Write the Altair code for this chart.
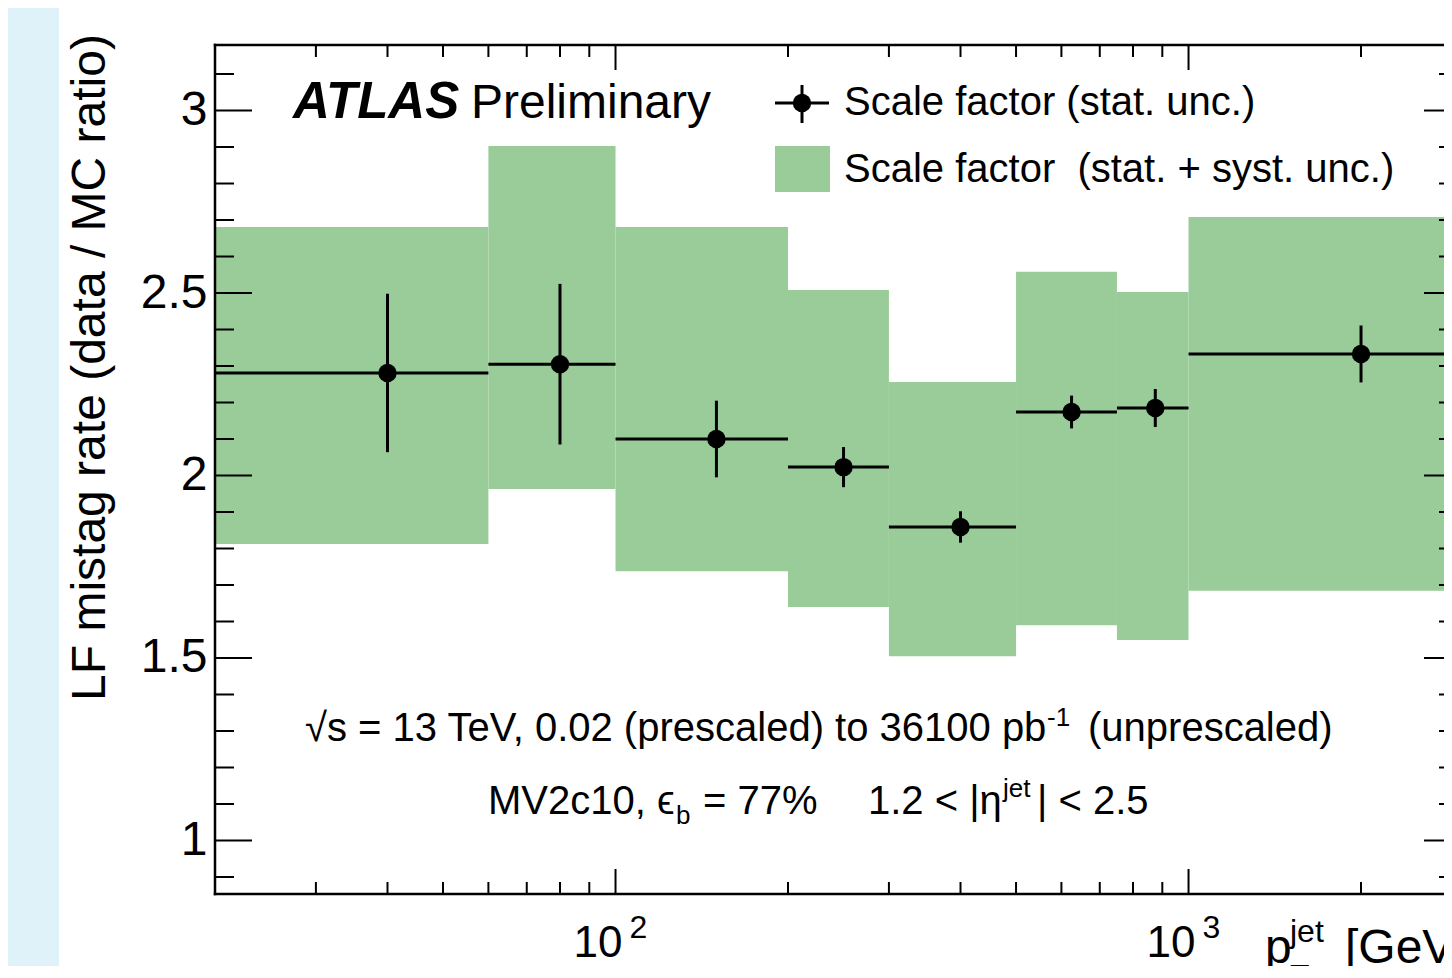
import altair as alt
import pandas as pd

FONT = "Liberation Sans"
W, H = 1229, 849

# ---- data ----
bin_lo = [20, 60, 100, 200, 300, 500, 750, 1000]
bin_hi = [60, 100, 200, 300, 500, 750, 1000, 3000]
pt_center = [40, 80, 150, 250, 400, 625, 875, 2000]
sf = [2.281, 2.305, 2.100, 2.023, 1.859, 2.174, 2.185, 2.333]
stat_unc = [0.217, 0.220, 0.105, 0.055, 0.043, 0.045, 0.052, 0.078]
band_lo = [1.812, 1.963, 1.738, 1.640, 1.505, 1.590, 1.549, 1.684]
band_hi = [2.681, 2.903, 2.681, 2.508, 2.256, 2.558, 2.503, 2.708]

# ---- tick positions / labels ----
y_major = [1, 1.5, 2, 2.5, 3]
y_minor = [0.9, 1.1, 1.2, 1.3, 1.4, 1.6, 1.7, 1.8, 1.9, 2.1, 2.2, 2.3, 2.4,
           2.6, 2.7, 2.8, 2.9, 3.1]
x_major = [100, 1000]
x_major_base = ["10", "10"]
x_major_exp = ["2", "3"]
x_minor = [30, 40, 50, 60, 70, 80, 90, 200, 300, 400, 500, 600, 700, 800, 900, 2000]

GREEN = "#99cc99"

df = pd.DataFrame(dict(lo=bin_lo, hi=bin_hi, c=pt_center, sf=sf,
                       blo=band_lo, bhi=band_hi))
df["elo"] = df["sf"] - pd.Series(stat_unc)
df["ehi"] = df["sf"] + pd.Series(stat_unc)

ymaj_df = pd.DataFrame({"v": y_major})
ymin_df = pd.DataFrame({"v": y_minor})
xmaj_df = pd.DataFrame({"v": x_major, "base": x_major_base, "exp": x_major_exp})
xmin_df = pd.DataFrame({"v": x_minor})
ONE = pd.DataFrame({"d": [0]})

xs = alt.Scale(type="log", domain=[20, 2791.5], nice=False)
ys = alt.Scale(domain=[0.8534, 3.1795], nice=False, zero=False)
yax = alt.Axis(values=y_major, format="~g", labelFont=FONT, labelFontSize=48,
               labelColor="black", labelPadding=8, ticks=False, tickSize=0,
               domain=False, grid=False, title=None, labelFlush=False)


def X(f):
    return alt.X(f, type="quantitative", scale=xs, axis=None)


def Y(f):
    return alt.Y(f, type="quantitative", scale=ys, axis=yax)


def txt(s, x, y, size=40, **kw):
    params = dict(text=s, align="left", baseline="alphabetic", font=FONT,
                  fontSize=size, color="black")
    params.update(kw)
    return alt.Chart(ONE).mark_text(**params).encode(x=alt.value(x), y=alt.value(y))


layers = []

# light blue page strip on the left
layers.append(alt.Chart(ONE).mark_rect(color="#e0f2f9").encode(
    x=alt.value(-207), x2=alt.value(-156), y=alt.value(-37), y2=alt.value(H + 72)))

# stat + syst band
layers.append(alt.Chart(df).mark_rect(color=GREEN, clip=True).encode(
    x=X("lo"), x2="hi", y=Y("bhi"), y2="blo"))

# horizontal bin bars
layers.append(alt.Chart(df).mark_rule(color="black", strokeWidth=3, clip=True).encode(
    x=X("lo"), x2="hi", y=Y("sf")))
# vertical stat errors
layers.append(alt.Chart(df).mark_rule(color="black", strokeWidth=3).encode(
    x=X("c"), y=Y("elo"), y2="ehi"))
# points
layers.append(alt.Chart(df).mark_point(filled=True, shape="circle", size=340,
                                       color="black", opacity=1).encode(
    x=X("c"), y=Y("sf")))

# ticks (inward)
layers.append(alt.Chart(ymaj_df).mark_rule(color="black", strokeWidth=2).encode(
    y=Y("v"), x=alt.value(0), x2=alt.value(37)))
layers.append(alt.Chart(ymin_df).mark_rule(color="black", strokeWidth=2).encode(
    y=Y("v"), x=alt.value(0), x2=alt.value(19)))
layers.append(alt.Chart(ymaj_df).mark_rule(color="black", strokeWidth=2).encode(
    y=Y("v"), x=alt.value(W - 20), x2=alt.value(W)))
layers.append(alt.Chart(ymin_df).mark_rule(color="black", strokeWidth=2).encode(
    y=Y("v"), x=alt.value(W - 5), x2=alt.value(W)))
layers.append(alt.Chart(xmaj_df).mark_rule(color="black", strokeWidth=2).encode(
    x=X("v"), y=alt.value(H), y2=alt.value(H - 25)))
layers.append(alt.Chart(xmaj_df).mark_rule(color="black", strokeWidth=2).encode(
    x=X("v"), y=alt.value(0), y2=alt.value(25)))
layers.append(alt.Chart(xmin_df).mark_rule(color="black", strokeWidth=2).encode(
    x=X("v"), y=alt.value(H), y2=alt.value(H - 12)))
layers.append(alt.Chart(xmin_df).mark_rule(color="black", strokeWidth=2).encode(
    x=X("v"), y=alt.value(0), y2=alt.value(12)))

# frame (left, top, bottom)
frame = dict(color="black", strokeWidth=2.5, strokeCap="square")
layers.append(alt.Chart(ONE).mark_rule(**frame).encode(
    x=alt.value(0), y=alt.value(0), y2=alt.value(H)))
layers.append(alt.Chart(ONE).mark_rule(**frame).encode(
    x=alt.value(0), x2=alt.value(W), y=alt.value(0)))
layers.append(alt.Chart(ONE).mark_rule(**frame).encode(
    x=alt.value(0), x2=alt.value(W), y=alt.value(H)))

# x tick labels 10^2, 10^3
layers.append(alt.Chart(xmaj_df).mark_text(align="right", baseline="alphabetic",
                                           font=FONT, fontSize=44, dx=7,
                                           color="black").encode(
    x=X("v"), y=alt.value(912), text="base:N"))
layers.append(alt.Chart(xmaj_df).mark_text(align="left", baseline="alphabetic",
                                           font=FONT, fontSize=32, dx=14,
                                           color="black").encode(
    x=X("v"), y=alt.value(893), text="exp:N"))

# legend symbols
layers.append(alt.Chart(ONE).mark_rect(color=GREEN).encode(
    x=alt.value(560), x2=alt.value(615), y=alt.value(101), y2=alt.value(147)))
layers.append(alt.Chart(ONE).mark_rule(color="black", strokeWidth=3).encode(
    x=alt.value(560), x2=alt.value(614), y=alt.value(58)))
layers.append(alt.Chart(ONE).mark_rule(color="black", strokeWidth=3).encode(
    x=alt.value(587), y=alt.value(40), y2=alt.value(78)))
layers.append(alt.Chart(ONE).mark_point(filled=True, shape="circle", size=340,
                                        color="black", opacity=1).encode(
    x=alt.value(587), y=alt.value(58)))

# texts
layers += [
    txt("ATLAS", 78, 73, 51, fontWeight="bold", fontStyle="italic"),
    txt("Preliminary", 256, 73, 48),
    txt("Scale factor (stat. unc.)", 629, 70, 40),
    txt("Scale factor\u00a0 (stat. + syst. unc.)", 629, 137, 40),
    # sqrt(s) line
    txt("\u221as = 13 TeV, 0.02 (prescaled) to 36100 pb", 90, 696, 40),
    txt("-1", 832, 681, 26),
    txt("(unprescaled)", 873, 696, 40),
    # MV2c10 line
    txt("MV2c10, \u03f5", 273, 769, 40),
    txt("b", 461, 779, 26),
    txt("= 77%", 488, 769, 40),
    txt("1.2 < |\u03b7", 653, 769, 40),
    txt("jet", 788, 752, 26),
    txt("| < 2.5", 822, 769, 40),
    # x title
    txt("p", 1050, 918, 48),
    txt("jet", 1075, 897, 32),
    txt("T", 1075, 942, 32),
    txt("[GeV]", 1130, 918, 48),
    # y title
    txt("LF mistag rate (data / MC ratio)", -110, 322.5, 48, angle=270, align="center"),
]

chart = alt.layer(*layers).properties(
    width=W, height=H,
    autosize=alt.AutoSizeParams(type="none"),
    padding={"left": 207, "top": 37, "right": 0, "bottom": 72},
    background="white",
).configure_view(stroke=None)

chart.save("out.html", embed_options={"renderer": "svg", "actions": False})
